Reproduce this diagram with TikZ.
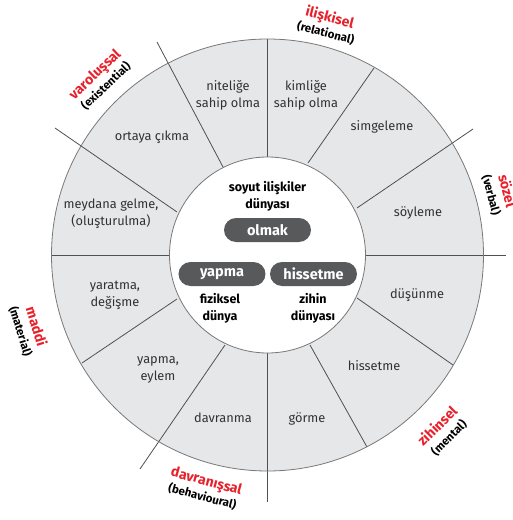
\documentclass[tikz,border=0pt]{standalone}
\usepackage{fontspec}
\setmainfont{Fira Sans}
\definecolor{cellgray}{RGB}{230,231,233}
\definecolor{linegray}{RGB}{80,80,80}
\definecolor{ringgray}{RGB}{120,120,120}
\definecolor{pillgray}{RGB}{88,89,91}
\definecolor{catred}{RGB}{232,32,42}
\definecolor{textgray}{RGB}{50,50,50}
\begin{document}
\begin{tikzpicture}[x=1pt,y=1pt,
    sep/.style={draw=linegray, line width=0.8pt},
    cell/.style={align=center, text=textgray, font=\fontsize{12.8}{17}\selectfont},
    world/.style={align=center, font=\bfseries\fontsize{12.5}{17}\selectfont},
    pill/.style={fill=pillgray, rounded corners=12pt, minimum width=87pt, minimum height=24pt, inner sep=0pt, text=white, font=\bfseries\fontsize{14.5}{15}\selectfont},
    cat/.style={align=center, font=\bfseries\fontsize{11.5}{14}\selectfont}]
    \useasboundingbox (-267.5,-265) rectangle (244.5,255);
    \fill[cellgray] (0,0) circle (216);
    \draw[sep] (89.5,47) -- (205.5,126);
    \draw[sep] (90,0) -- (238.5,0);
    \draw[sep] (40.5,92) -- (106.5,187);
    \draw[sep] (0,90) -- (0,216);
    \draw[sep] (-44.5,88) -- (-110.5,213);
    \draw[sep] (-90.5,43) -- (-212.5,127);
    \draw[sep] (-90,0) -- (-216,0);
    \draw[sep] (-90.5,-44) -- (-185.5,-108);
    \draw[sep] (-42.5,-90) -- (-127.5,-214);
    \draw[sep] (0,-90) -- (0,-247);
    \draw[sep] (42.5,-90) -- (99.5,-192);
    \draw[sep] (89.5,-43) -- (185.5,-110);
    \draw[draw=ringgray, line width=0.8pt] (0,0) circle (216);
    \draw[draw=ringgray, fill=white, line width=0.8pt] (0,0) circle (98);

    \node[cell] (nitelik) at (-39.5,160) {niteliğe\\sahip olma};
    \node[cell] (kimlik) at (38.5,160) {kimliğe\\sahip olma};
    \node[cell] (simge) at (114.5,128) {simgeleme};
    \node[cell] (soyleme) at (150.5,42) {söyleme};
    \node[cell] (dusunme) at (149.5,-40) {düşünme};
    \node[cell] (hisdis) at (106.5,-111) {hissetme};
    \node[cell] (gorme) at (39.5,-164) {görme};
    \node[cell] (davranma) at (-44.5,-163) {davranma};
    \node[cell] (eylem) at (-109.5,-115) {yapma,\\eylem};
    \node[cell] (yaratma) at (-152.5,-40) {yaratma,\\değişme};
    \node[cell] (meydana) at (-156.5,41) {meydana gelme,\\(oluşturulma)};
    \node[cell] (ortaya) at (-115.5,118) {ortaya çıkma};

    \node[world] (soyut) at (0,59) {soyut ilişkiler\\dünyası};
    \node[pill] (olmak) at (0,25) {olmak};
    \node[pill] (yapma) at (-45.5,-19) {yapma};
    \node[pill] (hissetme) at (46,-19) {hissetme};
    \node[world] (fiziksel) at (-47.5,-53) {fiziksel\\dünya};
    \node[world] (zihin) at (45.5,-53) {zihin\\dünyası};

    \node[cat, rotate=-14.7] (iliskisel) at (75.3:238) {\textcolor{catred}{\fontsize{14}{14}\selectfont ilişkisel}\\[1.5pt](relational)};
    \node[cat, rotate=43.7] (varolussal) at (133.7:242) {\textcolor{catred}{\fontsize{14}{14}\selectfont varoluşsal}\\[1.5pt](existential)};
    \node[cat, rotate=-75] (sozel) at (15:240) {\textcolor{catred}{\fontsize{14}{14}\selectfont sözel}\\[1.5pt](verbal)};
    \node[cat, rotate=-72.8] (maddi) at (197.2:250) {\textcolor{catred}{\fontsize{14}{14}\selectfont maddi}\\[1.5pt](material)};
    \node[cat, rotate=-15.1] (davranissal) at (254.9:242) {\textcolor{catred}{\fontsize{14}{14}\selectfont davranışsal}\\[1.5pt](behavioural)};
    \node[cat, rotate=44.8] (zihinsel) at (314.8:249) {\textcolor{catred}{\fontsize{14}{14}\selectfont zihinsel}\\[1.5pt](mental)};
\end{tikzpicture}
\end{document}
